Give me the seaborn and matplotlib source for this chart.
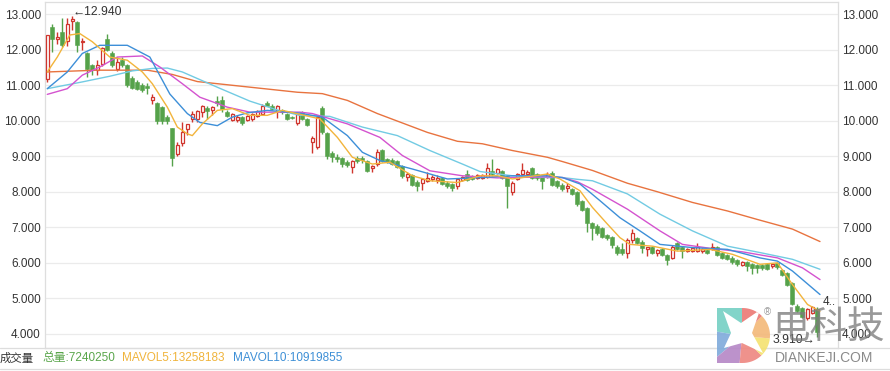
import numpy as np
import pandas as pd
import matplotlib
matplotlib.use("Agg")
import matplotlib.pyplot as plt
from matplotlib.patches import Wedge, Polygon, PathPatch
from matplotlib.path import Path
import seaborn as sns

# ---------------- data ----------------
opens = [11.18, 12.64, 12.30, 12.50, 12.24, 12.80, 12.78, 12.20, 11.91, 11.56,
         11.42, 11.60, 12.30, 11.90, 11.46, 11.72, 11.56, 11.20, 11.10, 11.00,
         10.98, 10.57, 10.49, 10.38, 10.10, 9.78, 9.07, 9.36, 9.77, 10.05,
         10.05, 10.23, 10.35, 10.30, 10.56, 10.58, 10.23, 10.03, 10.02, 10.09,
         10.02, 10.05, 10.14, 10.20, 10.49, 10.42, 10.28, 10.30, 10.20, 10.10,
         9.93, 10.23, 10.05, 9.41, 9.25, 10.36, 9.65, 9.08, 8.99, 8.94,
         8.84, 8.71, 8.94, 8.96, 8.86, 8.67, 8.78, 9.18, 8.92, 8.90,
         8.86, 8.72, 8.42, 8.46, 8.28, 8.25, 8.31, 8.35, 8.33, 8.38,
         8.26, 8.23, 8.16, 8.33, 8.49, 8.44, 8.40, 8.40, 8.41, 8.58,
         8.54, 8.58, 8.44, 7.98, 8.35, 8.49, 8.49, 8.66, 8.49, 8.41,
         8.41, 8.54, 8.29, 8.20, 8.10, 8.07, 7.98, 7.73, 7.55, 7.12,
         7.05, 6.98, 6.79, 6.74, 6.46, 6.40, 6.27, 6.65, 6.71, 6.60,
         6.40, 6.44, 6.27, 6.38, 6.23, 6.13, 6.56, 6.44, 6.33, 6.33,
         6.33, 6.33, 6.35, 6.38, 6.44, 6.27, 6.23, 6.15, 6.09, 5.95,
         6.02, 5.96, 5.95, 5.95, 5.96, 5.90, 5.99, 5.80, 5.71, 5.42,
         4.80, 4.73, 4.45, 4.60, 4.70]
highs = [12.42, 12.72, 12.50, 12.88, 12.90, 12.94, 12.80, 12.32, 11.93, 11.60,
         11.72, 12.08, 12.43, 11.95, 11.78, 11.78, 11.60, 11.25, 11.15, 11.05,
         11.05, 10.75, 10.52, 10.40, 10.15, 9.80, 9.40, 9.96, 9.92, 10.26,
         10.30, 10.45, 10.40, 10.42, 10.70, 10.70, 10.30, 10.22, 10.16, 10.12,
         10.16, 10.22, 10.30, 10.46, 10.55, 10.46, 10.45, 10.34, 10.22, 10.14,
         10.22, 10.26, 10.08, 9.57, 10.12, 10.40, 9.68, 9.15, 9.05, 8.98,
         8.88, 8.90, 9.00, 9.02, 8.90, 8.76, 9.20, 9.20, 8.96, 8.94,
         8.90, 8.75, 8.55, 8.50, 8.32, 8.40, 8.55, 8.46, 8.48, 8.42,
         8.30, 8.26, 8.38, 8.45, 8.60, 8.48, 8.50, 8.50, 8.82, 8.91,
         8.68, 8.62, 8.48, 8.30, 8.52, 8.82, 8.60, 8.70, 8.52, 8.45,
         8.55, 8.58, 8.32, 8.24, 8.25, 8.10, 8.02, 7.76, 7.58, 7.15,
         7.08, 7.00, 6.82, 6.77, 6.50, 6.55, 6.69, 6.94, 6.74, 6.63,
         6.46, 6.48, 6.38, 6.42, 6.26, 6.49, 6.60, 6.47, 6.42, 6.45,
         6.56, 6.42, 6.38, 6.56, 6.47, 6.30, 6.26, 6.18, 6.12, 6.06,
         6.05, 5.99, 5.98, 5.98, 6.00, 6.00, 6.02, 5.83, 5.74, 5.45,
         4.83, 4.76, 4.72, 4.80, 4.75]
lows = [11.10, 11.93, 12.17, 12.07, 12.10, 12.55, 11.93, 11.98, 11.23, 11.28,
        11.28, 11.55, 11.95, 11.50, 11.40, 11.52, 10.95, 10.88, 10.85, 10.80,
        10.74, 10.48, 9.90, 9.90, 9.92, 8.73, 9.00, 9.30, 9.60, 9.95,
        9.95, 10.10, 10.05, 10.15, 10.42, 10.25, 10.10, 9.98, 9.95, 9.88,
        9.98, 10.00, 10.10, 10.15, 10.40, 10.30, 10.08, 10.20, 10.02, 10.04,
        9.88, 10.02, 9.84, 9.10, 9.20, 9.62, 8.92, 8.83, 8.85, 8.70,
        8.70, 8.54, 8.80, 8.82, 8.55, 8.55, 8.72, 8.85, 8.80, 8.75,
        8.68, 8.40, 8.30, 8.15, 8.01, 8.05, 8.27, 8.30, 8.25, 8.20,
        8.10, 8.01, 8.07, 8.30, 8.30, 8.32, 8.36, 8.36, 8.38, 8.45,
        8.50, 8.36, 7.55, 7.92, 8.32, 8.45, 8.45, 8.36, 8.34, 8.07,
        8.38, 8.16, 8.12, 8.02, 8.00, 7.90, 7.60, 7.45, 6.88, 6.65,
        6.78, 6.69, 6.65, 6.41, 6.22, 6.22, 6.13, 6.56, 6.52, 6.27,
        6.18, 6.24, 6.18, 6.20, 5.95, 6.10, 6.35, 6.13, 6.30, 6.30,
        6.30, 6.28, 6.24, 6.35, 6.20, 6.12, 6.08, 5.98, 5.92, 5.90,
        5.76, 5.69, 5.72, 5.80, 5.80, 5.86, 5.84, 5.62, 5.34, 4.82,
        4.62, 4.44, 4.40, 4.55, 3.91]
closes = [12.40, 12.31, 12.36, 12.12, 12.72, 12.86, 12.12, 12.24, 11.46, 11.42,
          11.56, 12.05, 11.98, 11.56, 11.65, 11.58, 11.00, 10.93, 10.90, 10.85,
          10.92, 10.66, 10.00, 9.98, 10.00, 8.96, 9.32, 9.67, 9.90, 10.20,
          10.26, 10.42, 10.27, 10.38, 10.49, 10.33, 10.14, 10.20, 10.11, 9.93,
          10.12, 10.18, 10.26, 10.40, 10.42, 10.33, 10.42, 10.23, 10.05, 10.08,
          10.20, 10.05, 9.87, 9.50, 10.09, 9.67, 9.00, 8.99, 8.92, 8.78,
          8.75, 8.86, 8.86, 8.90, 8.58, 8.72, 9.11, 8.87, 8.83, 8.78,
          8.71, 8.45, 8.49, 8.20, 8.15, 8.36, 8.40, 8.41, 8.40, 8.23,
          8.15, 8.10, 8.35, 8.41, 8.33, 8.35, 8.46, 8.46, 8.66, 8.49,
          8.63, 8.40, 8.16, 8.26, 8.49, 8.60, 8.56, 8.40, 8.38, 8.30,
          8.51, 8.20, 8.16, 8.08, 8.16, 7.93, 7.65, 7.50, 7.12, 6.98,
          6.83, 6.74, 6.69, 6.50, 6.27, 6.27, 6.65, 6.84, 6.56, 6.41,
          6.44, 6.27, 6.35, 6.23, 6.09, 6.46, 6.38, 6.33, 6.38, 6.41,
          6.46, 6.38, 6.27, 6.46, 6.23, 6.15, 6.12, 6.02, 5.96, 6.02,
          5.90, 5.85, 5.85, 5.85, 5.83, 5.96, 5.87, 5.66, 5.38, 4.85,
          4.66, 4.48, 4.69, 4.77, 4.05]
days = list(range(len(closes)))

# moving-average lines (day index, value)
ma5_days = [0, 2, 4.5, 6.5, 9, 12.5, 16, 19, 21, 24, 26, 28, 29, 31, 34, 37, 40.5, 44, 47,
            50.5, 54.5, 58, 61, 65, 68.5, 73, 76.5, 82, 86.5, 90, 93, 100, 102.5, 106.5,
            109, 112, 114.5, 116.5, 121, 126, 132.5, 137, 142.5, 146, 149, 152, 154.5]
ma5_vals = [11.37, 11.79, 12.41, 12.45, 12.22, 11.79, 11.70, 11.37, 11.04, 10.38, 9.82,
            9.63, 9.58, 9.91, 10.29, 10.34, 10.15, 10.15, 10.29, 10.18, 10.05, 9.53, 8.97,
            8.78, 8.83, 8.45, 8.31, 8.26, 8.45, 8.45, 8.36, 8.50, 8.36, 8.03, 7.56, 7.09,
            6.71, 6.52, 6.47, 6.33, 6.38, 6.24, 5.96, 6.00, 5.39, 4.83, 4.64]
ma10_days = [0, 4, 7, 10.5, 16, 20.5, 24.5, 28, 30.5, 34, 37, 40, 44, 50.5, 55, 60, 63,
             66.5, 73, 80, 87, 93, 100, 103, 106.5, 110.5, 114.5, 118.5, 122.5, 129,
             136, 142.5, 146, 149, 154.5]
ma10_vals = [10.90, 11.37, 11.89, 12.12, 12.12, 11.79, 10.75, 10.20, 9.95, 9.86, 10.10,
             10.22, 10.29, 10.21, 10.10, 9.58, 9.11, 8.88, 8.64, 8.36, 8.40, 8.45, 8.45,
             8.40, 8.22, 7.75, 7.27, 6.90, 6.52, 6.43, 6.38, 6.14, 6.05, 5.77, 5.11]
ma20_days = [0, 4, 7, 10.5, 14, 19, 22.5, 27, 30.5, 36, 40.5, 46, 50.5, 53, 60, 66.5,
             71, 76.5, 83, 90, 100, 103, 106, 109, 116, 122.5, 127, 132.5, 139, 146,
             151, 154.5]
ma20_vals = [10.74, 10.90, 11.28, 11.51, 11.79, 11.82, 11.51, 11.04, 10.66, 10.38, 10.24,
             10.24, 10.24, 10.20, 9.91, 9.53, 9.02, 8.59, 8.45, 8.39, 8.42, 8.40, 8.28,
             8.07, 7.51, 6.90, 6.52, 6.41, 6.31, 6.14, 5.86, 5.53]
ma30_days = [0, 7, 12.5, 17, 21, 24, 27, 34, 40.5, 46, 50.5, 56.5, 63, 70, 76.5, 83,
             86.5, 93, 100, 103, 106, 109, 116, 122.5, 129, 136, 142.5, 149, 154.5]
ma30_vals = [10.90, 11.09, 11.25, 11.40, 11.47, 11.48, 11.37, 10.94, 10.55, 10.30, 10.15,
             10.12, 9.82, 9.58, 9.16, 8.78, 8.57, 8.45, 8.40, 8.40, 8.35, 8.31, 7.94, 7.37,
             6.90, 6.47, 6.29, 6.10, 5.82]
ma60_days = [0, 10, 20, 25, 30, 40, 50, 55, 60, 66, 76, 82, 87, 93, 100, 103, 109, 116,
             122, 129, 136, 142, 149, 154.5]
ma60_vals = [11.37, 11.42, 11.42, 11.30, 11.10, 10.95, 10.80, 10.76, 10.57, 10.20, 9.67,
             9.42, 9.35, 9.16, 8.97, 8.85, 8.60, 8.24, 8.00, 7.70, 7.46, 7.22, 6.95, 6.60]

y_ticks = [4, 5, 6, 7, 8, 9, 10, 11, 12, 13]
max_label = "12.940"
min_label = "3.910"
last_label = "4.."
vol_title = "成交量"
vol_total = "总量:7240250"
mavol5 = "MAVOL5:13258183"
mavol10 = "MAVOL10:10919855"

# ---------------- style ----------------
sns.set_theme(style="white")
plt.rcParams['font.family'] = ['Liberation Sans', 'DejaVu Sans', 'Noto Sans CJK SC']

RED = "#d0352d"
GREEN = "#55a24a"

df = pd.DataFrame({"day": days, "open": opens, "high": highs, "low": lows, "close": closes})
df["up"] = df["close"] >= df["open"]
df["bottom"] = df[["open", "close"]].min(axis=1)
df["height"] = (df["close"] - df["open"]).abs().clip(lower=0.025)

W, H = 890, 371
fig = plt.figure(figsize=(8.9, 3.71), dpi=100)
AX_TOP, AX_BOT = 2, 348
ax = fig.add_axes([45 / W, 1 - AX_BOT / H, (838 - 45) / W, (AX_BOT - AX_TOP) / H])

# wicks
for up, col in [(True, RED), (False, GREEN)]:
    sub = df[df["up"] == up]
    ax.vlines(sub["day"], sub["low"], sub["high"], color=col, linewidth=1.0, zorder=3)
# bodies
up_df = df[df["up"]]
dn_df = df[~df["up"]]
ax.bar(up_df["day"], up_df["height"], bottom=up_df["bottom"], width=0.7,
       facecolor="white", edgecolor=RED, linewidth=0.9, zorder=4)
ax.bar(dn_df["day"], dn_df["height"], bottom=dn_df["bottom"], width=0.8,
       facecolor=GREEN, edgecolor=GREEN, linewidth=0.4, zorder=4)

# MA lines
for d, v, c in [(ma60_days, ma60_vals, "#e8733f"),
                (ma30_days, ma30_vals, "#72cbe3"),
                (ma20_days, ma20_vals, "#d453cf"),
                (ma10_days, ma10_vals, "#3d8fd8"),
                (ma5_days, ma5_vals, "#f2b43b")]:
    sns.lineplot(x=d, y=v, ax=ax, color=c, linewidth=1.0, sort=False,
                 estimator=None, zorder=5)

PX = 35.5  # pixels per price unit
ax.set_xlim(-0.46, 158.1)
ax.set_ylim(4 - (AX_BOT - 334) / PX, 13 + (14 - AX_TOP) / PX)
ax.set_yticks(y_ticks)
ax.set_yticklabels([f"{t:.3f}" for t in y_ticks])
ax.set_xticks([])
ax.tick_params(axis="y", length=0, pad=3, labelsize=8.5, labelcolor="#333333",
               labelleft=True, labelright=True)
ax.yaxis.grid(True, color="#ebebeb", linewidth=0.9)
ax.set_axisbelow(True)
for s in ax.spines.values():
    s.set_color("#dedede")
    s.set_linewidth(0.9)

# max / min annotations
ax.text(5.0, 13.05, "\u2190" + max_label, ha="left", va="center", fontsize=8.7,
        color="#333333", zorder=6)
ax.text(153.6, 3.82, min_label + "\u2192", ha="right", va="center", fontsize=8.7,
        color="#333333", zorder=20, clip_on=False)
ax.text(155.0, 4.89, last_label, ha="left", va="center", fontsize=8.5, color="#333333",
        zorder=6, clip_on=False)

# ---------------- volume strip ----------------
fig.add_artist(plt.Line2D([0, 1], [1 - AX_BOT / H] * 2, color="#dddddd", linewidth=0.9))
fig.add_artist(plt.Line2D([0, 1], [1 - 369 / H] * 2, color="#dddddd", linewidth=0.9))
ty = 1 - 358 / H
fig.text(0 / W, ty, vol_title, ha="left", va="center", fontsize=8.2, color="#333333",
         family=['Noto Sans CJK SC', 'DejaVu Sans'])
fig.text(42 / W, ty, vol_total, ha="left", va="center", fontsize=8.5, color="#5aa64b",
         family=['Liberation Sans', 'Noto Sans CJK SC'])
fig.text(122 / W, ty, mavol5, ha="left", va="center", fontsize=8.5, color="#f0b43c")
fig.text(233 / W, ty, mavol10, ha="left", va="center", fontsize=8.5, color="#3d8fd6")

# ---------------- watermark logo ----------------
lg = fig.add_axes([0, 0, 1, 1], zorder=10)
lg.set_xlim(0, W)
lg.set_ylim(0, H)
lg.axis("off")
# D-shaped clip: left edge x=717, top y=308, bottom y=363 (pixel coords from top)
cxp, cyp, rr = 742.5, H - 335.5, 27.5
verts = [(717, H - 308), (cxp, H - 308)]
for a in np.linspace(90, -90, 40):
    verts.append((cxp + rr * np.cos(np.radians(a)), cyp + rr * np.sin(np.radians(a))))
verts += [(717, H - 363), (717, H - 308)]
dpath = Path(verts, closed=True)
clip = PathPatch(dpath, transform=lg.transData, facecolor="none", edgecolor="none")
lg.add_patch(clip)
for t1, t2, col in [(90, 170, "#74d0c4"), (170, 220, "#7eaadb"), (220, 265, "#b586c6"),
                    (265, 315, "#ee8680"), (315, 355, "#f4e16f"), (355, 405, "#f3b878"),
                    (45, 90, "#ec7873")]:
    w = Wedge((742, H - 336), 60, t1, t2, facecolor=col, edgecolor="none", alpha=0.9)
    lg.add_patch(w)
    w.set_clip_path(clip)
star = Polygon([(723, H - 311), (741, H - 323), (760, H - 310), (752, H - 333),
                (763, H - 353), (742, H - 343), (724, H - 348), (731, H - 333)],
               closed=True, facecolor="white", edgecolor="none")
lg.add_patch(star)
star.set_clip_path(clip)
lg.text(767, H - 312, "\u00ae", fontsize=7, color="#999999", ha="center", va="center")
lg.text(772, H - 327, "电科技", fontsize=27, color="#7c7c7c", alpha=0.78, ha="left",
        va="center", family=['Noto Sans CJK SC', 'DejaVu Sans'])
lg.text(775, H - 358, "DIANKEJI.COM", fontsize=10, color="#8a8a8a", ha="left",
        va="center")

fig.savefig("out.png", dpi=100)
